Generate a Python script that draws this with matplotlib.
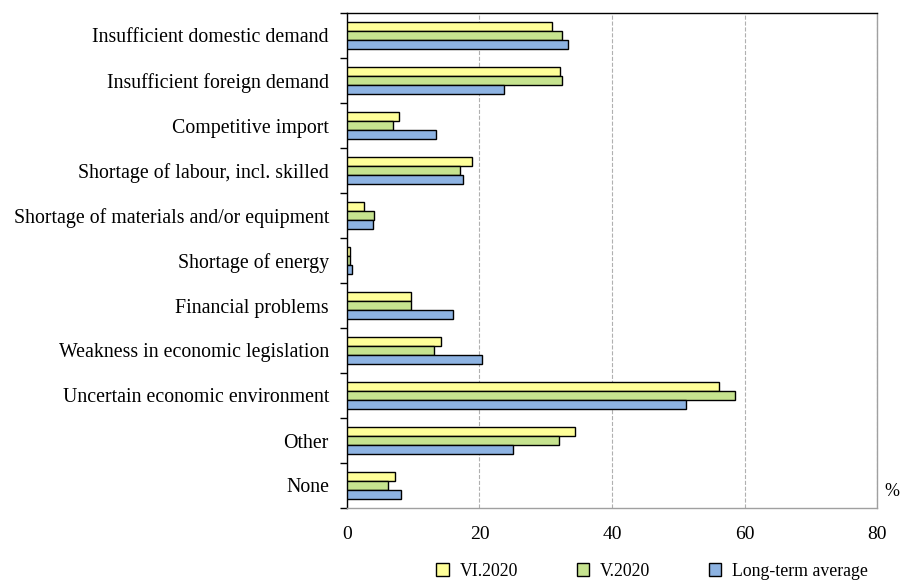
import numpy as np
import matplotlib.pyplot as plt

categories = [
    "Insufficient domestic demand",
    "Insufficient foreign demand",
    "Competitive import",
    "Shortage of labour, incl. skilled",
    "Shortage of materials and/or equipment",
    "Shortage of energy",
    "Financial problems",
    "Weakness in economic legislation",
    "Uncertain economic environment",
    "Other",
    "None",
]
vi_2020 = [31.0, 32.1, 7.9, 18.8, 2.5, 0.5, 9.6, 14.2, 56.1, 34.4, 7.3]
v_2020 = [32.5, 32.4, 7.0, 17.0, 4.1, 0.45, 9.6, 13.2, 58.5, 32.0, 6.2]
long_term = [33.4, 23.7, 13.5, 17.5, 3.9, 0.7, 16.0, 20.4, 51.2, 25.0, 8.1]
series_names = ["VI.2020", "V.2020", "Long-term average"]
colors = ["#ffff99", "#c6e38f", "#8db3e2"]

plt.rcParams["font.family"] = ["Liberation Serif", "DejaVu Serif"]

fig = plt.figure(figsize=(9.03, 5.81), dpi=100)
ax = fig.add_axes([347 / 903, 1 - 508 / 581, 530 / 903, 495 / 581])

n = len(categories)
y = np.arange(n)
h = 0.205
for i, (vals, name, col) in enumerate(zip([vi_2020, v_2020, long_term], series_names, colors)):
    ax.barh(y + (i - 1) * h, vals, height=h, color=col, edgecolor="black",
            linewidth=1.0, label=name, zorder=3)

ax.set_xlim(0, 80)
ax.set_ylim(n - 0.5, -0.5)
ax.set_xticks([0, 20, 40, 60, 80])
ax.tick_params(axis="x", length=0, labelsize=14, pad=13)
ax.set_yticks(y)
ax.set_yticklabels(categories, fontsize=14.3)
ax.set_yticks(np.arange(-0.5, n, 1), minor=True)
ax.tick_params(axis="y", which="major", length=0, pad=13)
ax.tick_params(axis="y", which="minor", length=5, direction="out", width=1)
ax.grid(axis="x", color="#b0b0b0", linestyle="--", linewidth=0.8, zorder=0)

ax.spines["left"].set_color("black")
ax.spines["top"].set_color("black")
ax.spines["right"].set_color("#a0a0a0")
ax.spines["bottom"].set_color("#a0a0a0")
for s in ax.spines.values():
    s.set_linewidth(1.0)

fig.text(884 / 903, 1 - 492 / 581, "%", fontsize=13, ha="left", va="center")

handles, labels = ax.get_legend_handles_labels()
fig.legend(handles, labels, loc="center", bbox_to_anchor=(652 / 903, 1 - 571 / 581),
           ncol=3, frameon=False, fontsize=12.8, handlelength=0.7, handleheight=0.7,
           columnspacing=3.3, handletextpad=0.6)

fig.savefig("out.png", dpi=100)
